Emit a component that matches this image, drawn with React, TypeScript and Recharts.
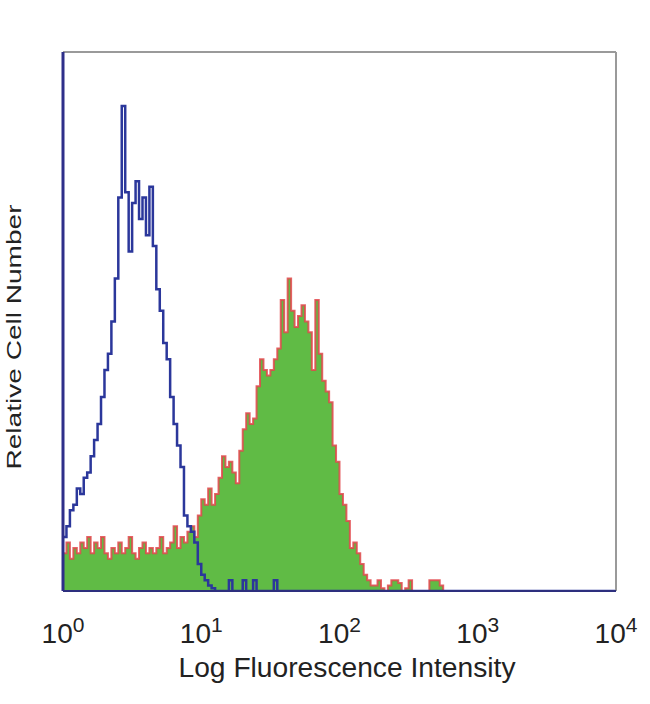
import { Area, ComposedChart, Line, ReferenceLine, XAxis, YAxis } from 'recharts'

// histogram bins: 0.025 log-decade wide, from 10^0 to 10^4
const BIN = 0.025
const BIN_COUNT = 161

// isotype control (blue outline), relative counts per bin
const controlCounts = [
  10, 12, 15, 16, 19, 18, 21, 22, 25, 28,
  31, 36, 41, 44, 50, 58, 73, 90, 74, 63,
  72, 76, 69, 73, 66, 75, 64, 56, 52, 46,
  43, 36, 31, 27, 23, 14, 12, 11, 9, 5,
  3, 2, 1, 0.5, 0, 0, 0, 0, 2, 0,
  0, 0, 2, 0, 0, 2, 0, 0, 0, 0,
  0, 2,
]

// stained sample (green fill, red outline)
const stainedCounts = [
  7, 9, 6, 8, 7, 9, 8, 10, 7, 9,
  8, 10, 7, 6, 8, 7, 9, 7, 8, 10,
  7, 6, 8, 9, 7, 8, 7, 8, 10, 7,
  8, 9, 12, 8, 10, 9, 11, 12, 10, 14,
  17, 16, 19, 16, 18, 21, 25, 23, 24, 22,
  20, 26, 30, 33, 31, 32, 38, 43, 41, 40,
  41, 43, 45, 54, 48, 58, 52, 49, 51, 53,
  50, 48, 41, 54, 44, 39, 37, 35, 27, 24,
  18, 16, 13, 8, 9, 7, 5, 3, 2, 1,
  1, 2, 0.5, 0, 1, 2, 2, 1.5, 0, 0.5,
  2, 0, 0, 0, 0, 0, 2, 2, 2, 1,
  0,
]

const decadeTicks = [0, 1, 2, 3, 4]

const data = Array.from({ length: BIN_COUNT }, (_, i) => ({
  x: i * BIN,
  control: controlCounts[i] ?? 0,
  stained: stainedCounts[i] ?? 0,
}))

const FONT = '"Liberation Sans", Arial, sans-serif'

// tick label like 10^n with a raised exponent
const DecadeTick = ({ x, y, payload }: any) => (
  <text x={x} y={y + 44} textAnchor="middle" fontFamily={FONT} fill="#222">
    <tspan fontSize={28}>10</tspan>
    <tspan fontSize={21} dy={-11}>{payload.value}</tspan>
  </text>
)

export default function App() {
  return (
    <div style={{ position: 'absolute', left: 0, top: 0, width: 650, height: 704 }}>
      <ComposedChart
        width={650}
        height={704}
        data={data}
        margin={{ top: 52, right: 34, bottom: 0, left: 63 }}
      >
        <XAxis
          dataKey="x"
          type="number"
          domain={[0, 4]}
          ticks={decadeTicks}
          height={113}
          tickLine={false}
          axisLine={{ stroke: '#2d2f7e', strokeWidth: 2 }}
          tick={<DecadeTick />}
          interval={0}
        />
        <YAxis hide domain={[0, 100]} allowDataOverflow />
        <Area
          type="stepAfter"
          dataKey="stained"
          fill="#60bb45"
          fillOpacity={1}
          stroke="#e2474b"
          strokeWidth={2}
          strokeOpacity={0.85}
          isAnimationActive={false}
        />
        <Line
          type="stepAfter"
          dataKey="control"
          stroke="#2b379b"
          strokeWidth={2.5}
          dot={false}
          isAnimationActive={false}
        />
        <ReferenceLine y={100} stroke="#9a9a9a" strokeWidth={2} />
        <ReferenceLine x={4} stroke="#9a9a9a" strokeWidth={2} />
        <ReferenceLine x={0} stroke="#2e2f8a" strokeWidth={3} />
      </ComposedChart>
      <svg
        width={650}
        height={704}
        style={{ position: 'absolute', left: 0, top: 0, pointerEvents: 'none' }}
      >
        <text
          x={347}
          y={677}
          textAnchor="middle"
          fontFamily={FONT}
          fontSize={27}
          fill="#222"
          textLength={337}
          lengthAdjust="spacingAndGlyphs"
        >
          Log Fluorescence Intensity
        </text>
        <text
          transform="translate(21, 337) rotate(-90)"
          textAnchor="middle"
          fontFamily={FONT}
          fontSize={21}
          fill="#222"
          textLength={265}
          lengthAdjust="spacingAndGlyphs"
        >
          Relative Cell Number
        </text>
      </svg>
    </div>
  )
}
